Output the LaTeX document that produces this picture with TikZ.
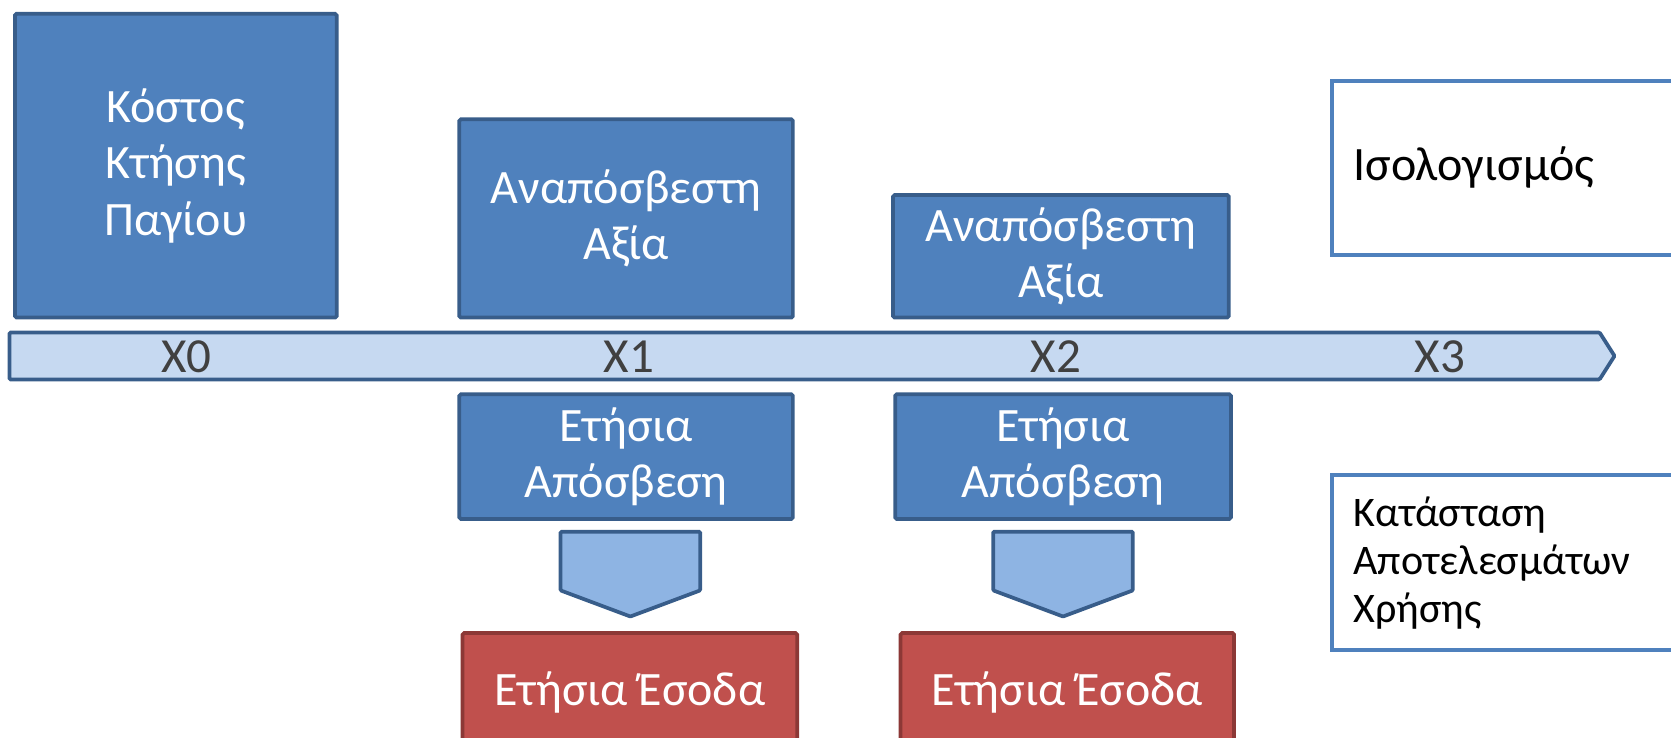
\documentclass[tikz,border=0pt]{standalone}
\usepackage{fontspec}
\setmainfont{Carlito}
\definecolor{bfill}{HTML}{4F81BD}
\definecolor{bdark}{HTML}{385D8A}
\definecolor{tlfill}{HTML}{C6D9F1}
\definecolor{chfill}{HTML}{8EB4E3}
\definecolor{rfill}{HTML}{C0504D}
\definecolor{rdark}{HTML}{8C3836}
\definecolor{xgray}{HTML}{404040}
\begin{document}
\begin{tikzpicture}[x=1pt,y=-1pt,
  bluebox/.style={draw=bdark, fill=bfill, line width=3.5pt, rounded corners=1.5pt,
    text=white, font=\fontsize{45}{53}\selectfont, align=center, inner sep=0pt},
  redbox/.style={draw=rdark, fill=rfill, line width=3.5pt, rounded corners=1.5pt,
    text=white, font=\fontsize{45}{53}\selectfont, align=center, inner sep=0pt},
  sidebox/.style={draw=bfill, fill=white, line width=3.5pt, text=black,
    align=left, inner sep=0pt, minimum width=350pt, text width=310pt},
  tlbar/.style={draw=bdark, fill=tlfill, line width=3.5pt, rounded corners=1pt},
  chev/.style={draw=bdark, fill=chfill, line width=3.5pt, rounded corners=1pt},
  tick/.style={text=xgray, font=\fontsize{46}{50}\selectfont, inner sep=0pt}
]
\useasboundingbox (0,0) rectangle (1568,691.6);
\clip (0,0) rectangle (1568,691.6);

% timeline arrow
\coordinate (tlA) at (9,312);
\coordinate (tlB) at (1501,312);
\coordinate (tlC) at (1515,334);
\coordinate (tlD) at (1501,356);
\coordinate (tlE) at (9,356);
\draw[tlbar] (tlA) -- (tlB) -- (tlC) -- (tlD) -- (tlE) -- cycle;
\node[tick] (x0) at (175,335) {X0};
\node[tick] (x1) at (590,335) {X1};
\node[tick] (x2) at (991,335) {X2};
\node[tick] (x3) at (1351,335) {X3};

% upper boxes
\node[bluebox, minimum width=302pt, minimum height=285pt] (cost) at (165,155.5)
  {\raisebox{-3pt}{\parbox{280pt}{\centering Κόστος\\Κτήσης\\Παγίου}}};
\node[bluebox, minimum width=313pt, minimum height=186pt] (nbv1) at (587.5,205)
  {\raisebox{-4pt}{\parbox{290pt}{\centering Αναπόσβεστη\\Αξία}}};
\node[bluebox, minimum width=315pt, minimum height=115pt] (nbv2) at (995.5,240.5)
  {\raisebox{-2pt}{\parbox{290pt}{\centering Αναπόσβεστη\\Αξία}}};

% lower boxes
\node[bluebox, minimum width=313pt, minimum height=117pt] (dep1) at (587.5,428.5)
  {\raisebox{-3pt}{\parbox{290pt}{\centering Ετήσια\\Απόσβεση}}};
\node[bluebox, minimum width=315pt, minimum height=117pt] (dep2) at (997.5,428.5)
  {\raisebox{-3pt}{\parbox{290pt}{\centering Ετήσια\\Απόσβεση}}};

% chevrons
\coordinate (c1a) at (526,499);
\coordinate (c1b) at (657,499);
\coordinate (c1c) at (657,554);
\coordinate (c1d) at (591.5,578.5);
\coordinate (c1e) at (526,554);
\draw[chev] (c1a) -- (c1b) -- (c1c) -- (c1d) -- (c1e) -- cycle;
\coordinate (c2a) at (932,499);
\coordinate (c2b) at (1063,499);
\coordinate (c2c) at (1063,554);
\coordinate (c2d) at (997.5,578.5);
\coordinate (c2e) at (932,554);
\draw[chev] (c2a) -- (c2b) -- (c2c) -- (c2d) -- (c2e) -- cycle;

% red boxes
\node[redbox, minimum width=314pt, minimum height=112pt] (inc1) at (591,650)
  {Ετήσια Έσοδα};
\node[redbox, minimum width=313pt, minimum height=112pt] (inc2) at (1001.5,650)
  {Ετήσια Έσοδα};

% side legend boxes
\node[sidebox, minimum height=163pt, font=\fontsize{45}{50}\selectfont] (bs) at (1425,157.5)
  {Ισολογισμός};
\node[sidebox, minimum height=164pt, font=\fontsize{39.5}{45}\selectfont] (is) at (1425,528)
  {Κατάσταση\\Αποτελεσμάτων\\Χρήσης};
\end{tikzpicture}
\end{document}
